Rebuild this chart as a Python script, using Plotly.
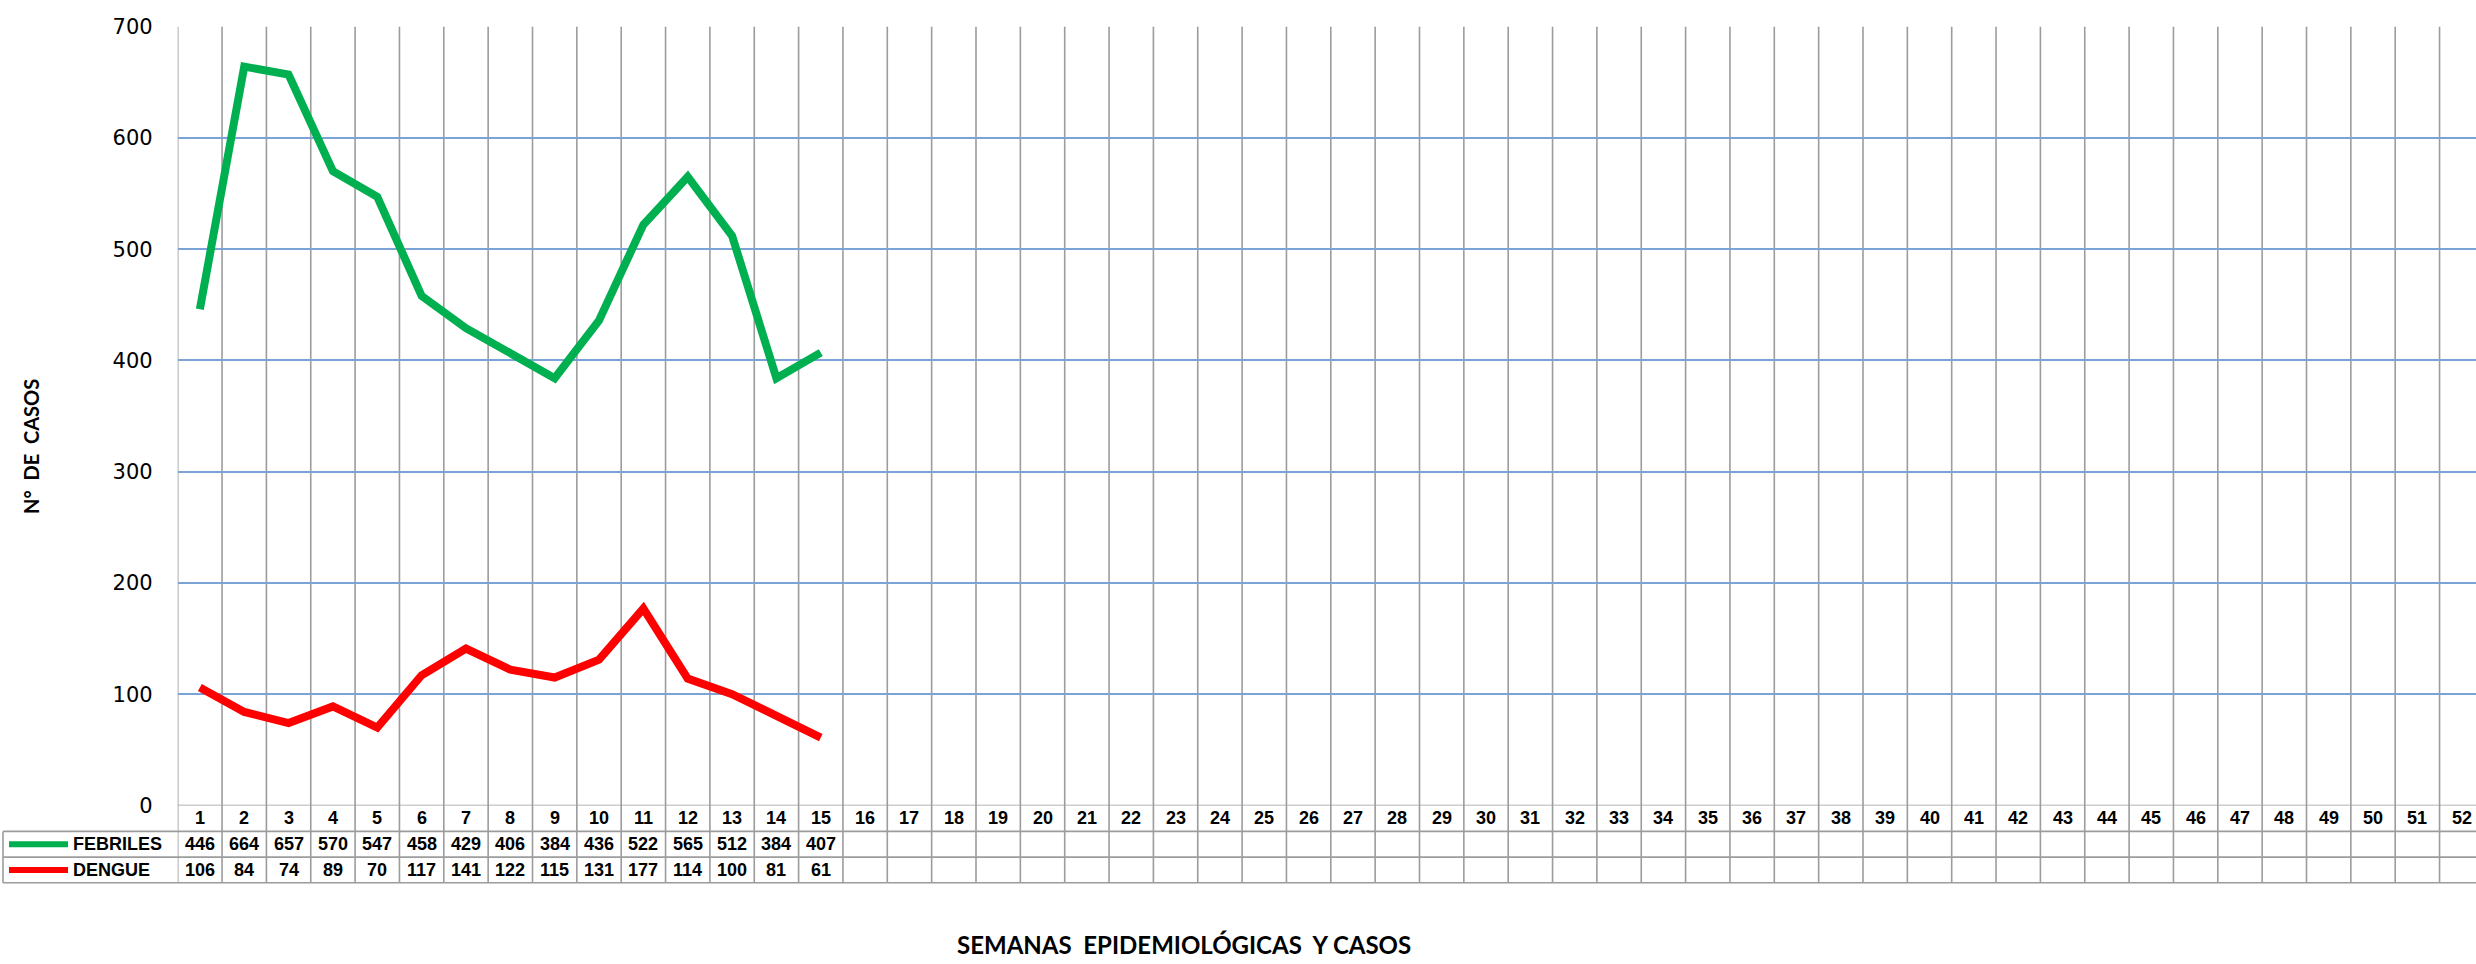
import plotly.graph_objects as go

# ---------------- data ----------------
weeks = list(range(1, 53))
week_labels = [str(w) for w in weeks]
febriles = [446, 664, 657, 570, 547, 458, 429, 406, 384, 436, 522, 565, 512, 384, 407]
dengue = [106, 84, 74, 89, 70, 117, 141, 122, 115, 131, 177, 114, 100, 81, 61]
series_names = ["FEBRILES", "DENGUE"]
series_colors = ["#00B050", "#FF0000"]
y_ticks = [0, 100, 200, 300, 400, 500, 600, 700]
y_title = "N°  DE  CASOS"
x_title = "SEMANAS  EPIDEMIOLÓGICAS  Y CASOS"

# ---------------- layout helpers ----------------
W, H = 2476, 964
def py(p):
    return 1 - p / H
def px(p):
    return p / W

plot_left = 177.7
col_w = 44.35
x_max = 0.5 + (W - plot_left) / col_w
y_top_px, y_zero_px = 15.0, 813.7
row_hdr_bot, row1_bot, row2_bot = 840.3, 866.7, 893.0
grid_gray = "#9C9C9C"
table_font = "Liberation Sans, Arial, sans-serif"

fig = go.Figure()
series_values = [febriles, dengue]
for name, vals, col in zip(series_names, series_values, series_colors):
    fig.add_trace(go.Scatter(
        x=weeks[:len(vals)], y=vals, mode="lines", name=name,
        line=dict(color=col, width=8), showlegend=False))

shapes = []
# vertical category lines (plot + table)
for b in [w - 0.5 for w in weeks] + [weeks[-1] + 0.5]:
    shapes.append(dict(type="line", xref="x", yref="paper", x0=b, x1=b,
                       y0=py(y_top_px), y1=py(row2_bot),
                       line=dict(color=grid_gray, width=1.6), layer="below"))
# horizontal table lines
shapes.append(dict(type="line", xref="x", yref="y", x0=0.5, x1=x_max, y0=0, y1=0,
                   line=dict(color=grid_gray, width=1.6)))
for yy in [row_hdr_bot, row1_bot, row2_bot]:
    shapes.append(dict(type="line", xref="paper", yref="paper", x0=px(3), x1=1,
                       y0=py(yy), y1=py(yy), line=dict(color=grid_gray, width=1.6)))
shapes.append(dict(type="line", xref="paper", yref="paper", x0=px(3), x1=px(3),
                   y0=py(row_hdr_bot), y1=py(row2_bot), line=dict(color=grid_gray, width=1.6)))
# legend swatches
row_centers = [(row_hdr_bot + row1_bot) / 2, (row1_bot + row2_bot) / 2]
for col, rc in zip(series_colors, row_centers):
    shapes.append(dict(type="line", xref="paper", yref="paper", x0=px(9), x1=px(68),
                       y0=py(rc), y1=py(rc), line=dict(color=col, width=6)))

annotations = []
hdr_c = (y_zero_px + row_hdr_bot) / 2
for w, lab in zip(weeks, week_labels):
    annotations.append(dict(x=w, y=py(hdr_c), xref="x", yref="paper", text="<b>%s</b>" % lab,
                            showarrow=False, xanchor="center", yanchor="middle",
                            font=dict(family=table_font, size=18, color="black")))
for name, vals, rc in zip(series_names, series_values, row_centers):
    annotations.append(dict(x=px(71), y=py(rc), xref="paper", yref="paper", text="<b>%s</b>" % name,
                            showarrow=False, xanchor="left", yanchor="middle",
                            font=dict(family=table_font, size=18, color="black")))
    for w, v in zip(weeks, vals):
        annotations.append(dict(x=w, y=py(rc), xref="x", yref="paper", text="<b>%d</b>" % v,
                                showarrow=False, xanchor="center", yanchor="middle",
                                font=dict(family=table_font, size=18, color="black")))
# axis titles
annotations.append(dict(x=px(31), y=py(446), xref="paper", yref="paper", text="<b>%s</b>" % y_title,
                        textangle=-90, showarrow=False, xanchor="center", yanchor="middle",
                        font=dict(family="Lato, sans-serif", size=20, color="black")))
annotations.append(dict(x=px(1184), y=py(956), xref="paper", yref="paper", text="<b>%s</b>" % x_title,
                        showarrow=False, xanchor="center", yanchor="middle",
                        font=dict(family="Lato, sans-serif", size=24, color="black")))

fig.update_layout(
    width=W, height=H, margin=dict(l=0, r=0, t=0, b=0),
    paper_bgcolor="white", plot_bgcolor="white",
    xaxis=dict(domain=[px(plot_left), 1], range=[0.5, x_max], showgrid=False, zeroline=False,
               showticklabels=False, showline=False, ticks=""),
    yaxis=dict(domain=[py(y_zero_px), py(y_top_px)], range=[0, 700], tickvals=y_ticks,
               showgrid=True, gridcolor="#7BA3D8", gridwidth=1.6, zeroline=False, showline=False,
               ticks="", ticklabelstandoff=24,
               tickfont=dict(family="DejaVu Sans, Verdana, sans-serif", size=21, color="black")),
    shapes=shapes, annotations=annotations,
)

fig.write_html("out.html", config={"displayModeBar": False},
               post_script="document.body.style.margin='0';document.body.style.overflow='hidden';")
